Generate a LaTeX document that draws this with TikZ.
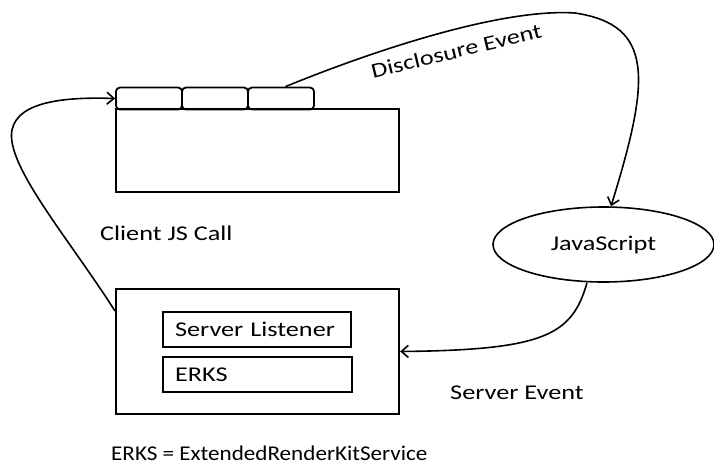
\documentclass[tikz,border=0pt]{standalone}
\usepackage{fontspec}
\setmainfont{Carlito}[FakeStretch=1.25]
\newfontfamily\legendfont{Carlito}[FakeStretch=1.1]
\usetikzlibrary{arrows.meta,shapes.geometric,calc}
\tikzset{
  txt/.style={font=\fontsize{21}{25}\selectfont, inner sep=0pt},
  tabbox/.style={draw, line width=1.8pt, rounded corners=4pt, minimum width=66pt, minimum height=22pt, inner sep=0pt},
  bigbox/.style={draw, line width=2.2pt, minimum width=283pt, inner sep=0pt},
  innerbox/.style={draw, line width=1.3pt, minimum height=35pt, text width=164pt, inner xsep=12pt, inner ysep=0pt, align=left, font=\fontsize{21}{25}\selectfont},
  conn/.style={line width=1.6pt, -{Straight Barb[length=7pt,width=12pt]}}
}
\begin{document}
\begin{tikzpicture}[x=1pt,y=-1pt]
\useasboundingbox (0,0) rectangle (714,463);
% client page
\node[tabbox] (tab1) at (149,98.5) {};
\node[tabbox] (tab2) at (215,98.5) {};
\node[tabbox] (tab3) at (281,98.5) {};
\node[bigbox, line width=1.9pt, minimum height=83pt] (page) at (257.5,150.5) {};
% server box
\node[bigbox, minimum height=125pt] (srv) at (257.5,351.5) {};
\node[innerbox] (lis) at (257,329.5) {Server Listener};
\node[innerbox, text width=165pt] (erks) at (257.5,374.5) {ERKS};
% javascript
\node[draw, ellipse, line width=1.6pt, minimum width=221pt, minimum height=75pt, inner sep=0pt, font=\fontsize{21}{25}\selectfont] (js) at (603.5,244.5) {JavaScript};
% labels
\node[txt, anchor=base west] (lclient) at (100,240) {Client JS Call};
\node[txt, anchor=base west] (lserver) at (450,399) {Server Event};
\node[txt, font=\legendfont\fontsize{21}{25}\selectfont, anchor=base west] (legend) at (111,460) {ERKS = ExtendedRenderKitService};
\node[txt, rotate=13.5, anchor=base] (ldisc) at (458,58) {Disclosure Event};
% connectors
\draw[conn] ([xshift=4.5pt]tab3.north) .. controls (370,52) and (500,8) .. (575,13)
  .. controls (655,25) and (650,80) .. ([xshift=7.5pt]js.north);
\draw[conn] ($(srv.north west)+(0,23)$) .. controls (70,240) and (5,165) .. (12,130)
  .. controls (18,100) and (70,97) .. (tab1.west);
\draw[conn] ([xshift=-16.5pt]js.south) .. controls (572,335) and (545,350) .. (srv.east);
\end{tikzpicture}
\end{document}
